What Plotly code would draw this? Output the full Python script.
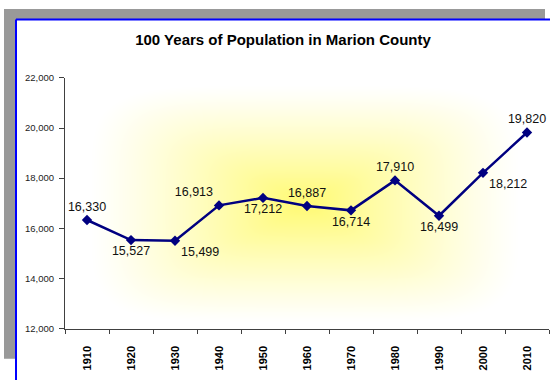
import base64
import struct
import zlib

import numpy as np
import plotly.graph_objects as go

# Census population of Marion County, 1910-2010
years = [1910, 1920, 1930, 1940, 1950, 1960, 1970, 1980, 1990, 2000, 2010]
population = [16330, 15527, 15499, 16913, 17212, 16887, 16714, 17910, 16499, 18212, 19820]
label_positions = ["top center", "bottom center", "bottom right", "top left", "bottom center",
                   "top center", "bottom center", "top center", "bottom center", "bottom right",
                   "top center"]
y_ticks = [12000, 14000, 16000, 18000, 20000, 22000]

W, H = 550, 385
FONT = "Arial, Liberation Sans, sans-serif"

# plot area in pixels
px0, px1 = 65, 549
py0, py1 = 74, 332


def png_data_uri(rgb):
    """Encode an (h, w, 3) uint8 array as a PNG data URI."""
    h, w, _ = rgb.shape
    raw = b"".join(b"\x00" + rgb[r].tobytes() for r in range(h))

    def chunk(tag, data):
        c = struct.pack(">I", len(data)) + tag + data
        return c + struct.pack(">I", zlib.crc32(tag + data) & 0xFFFFFFFF)

    png = (b"\x89PNG\r\n\x1a\n"
           + chunk(b"IHDR", struct.pack(">IIBBBBB", w, h, 8, 2, 0, 0, 0))
           + chunk(b"IDAT", zlib.compress(raw, 9))
           + chunk(b"IEND", b""))
    return "data:image/png;base64," + base64.b64encode(png).decode()


# rectangular "from centre" yellow glow inside the plot area
gw, gh = px1 - px0, py1 - py0
xs = np.arange(gw) + px0 + 0.5
ys = np.arange(gh) + py0 + 0.5
X, Y = np.meshgrid(xs, ys)
u = (X - 305) / 215
v = (Y - 204) / 122
p = 5
d = (np.abs(u) ** p + np.abs(v) ** p) ** (1 / p)
t = np.clip(1 - d, 0, 1) ** 1.15
center = np.array([255, 250, 115], dtype=float)
white = np.array([255, 255, 255], dtype=float)
img = white[None, None, :] * (1 - t[..., None]) + center[None, None, :] * t[..., None]
glow = png_data_uri(img.round().astype(np.uint8))

fig = go.Figure()
fig.add_trace(go.Scatter(
    x=years, y=population,
    mode="lines+markers+text",
    line=dict(color="#000080", width=2.5),
    marker=dict(symbol="diamond", size=8, color="#000080"),
    text=[f"{v:,}" for v in population],
    textposition=label_positions,
    textfont=dict(family=FONT, size=12.5, color="#111111"),
    cliponaxis=False,
    hoverinfo="skip",
))

fx = lambda q: q / W
fy = lambda q: 1 - q / H

fig.update_layout(
    width=W, height=H,
    margin=dict(l=0, r=0, t=0, b=0),
    paper_bgcolor="white",
    plot_bgcolor="rgba(0,0,0,0)",
    showlegend=False,
    title=dict(text="<b>100 Years of Population in Marion County</b>",
               x=fx(283), xanchor="center", y=fy(40), yanchor="middle",
               font=dict(family=FONT, size=15, color="#000000")),
    xaxis=dict(
        domain=[fx(px0), fx(px1)],
        range=[1905, 2015],
        tickvals=years,
        ticktext=[str(y) for y in years],
        tickangle=-90,
        ticks="",
        ticklabelstandoff=12,
        tickfont=dict(family=FONT, size=11, color="#000000", weight="bold"),
        showline=True, linecolor="#404040", linewidth=1,
        showgrid=False, zeroline=False,
        minor=dict(tick0=1905, dtick=10, ticks="outside", ticklen=4,
                   tickcolor="#404040", showgrid=False),
    ),
    yaxis=dict(
        domain=[1 - py1 / H, 1 - py0 / H],
        range=[12000, 22000],
        tickvals=y_ticks,
        tickformat=",d",
        ticks="outside", ticklen=5, tickcolor="#404040",
        ticklabelstandoff=3,
        tickfont=dict(family=FONT, size=9.5, color="#222222"),
        showline=True, linecolor="#404040", linewidth=1,
        showgrid=False, zeroline=False,
    ),
    images=[dict(source=glow, xref="paper", yref="paper",
                 x=fx(px0), y=fy(py0), sizex=fx(px1) - fx(px0), sizey=fy(py0) - fy(py1),
                 xanchor="left", yanchor="top", sizing="stretch", layer="below")],
    shapes=[
        # grey shadow strips along the top and left of the frame
        dict(type="rect", xref="paper", yref="paper", x0=fx(4), x1=fx(545), y0=fy(14), y1=fy(3),
             fillcolor="#999999", line=dict(width=0), layer="below"),
        dict(type="rect", xref="paper", yref="paper", x0=fx(4), x1=fx(16), y0=fy(363), y1=fy(3),
             fillcolor="#999999", line=dict(width=0), layer="below"),
        # blue frame edges
        dict(type="line", xref="paper", yref="paper", x0=fx(16), x1=fx(16), y0=0, y1=fy(14),
             line=dict(color="#0000FF", width=2)),
        dict(type="line", xref="paper", yref="paper", x0=fx(16), x1=1, y0=fy(14), y1=fy(14),
             line=dict(color="#0000FF", width=2)),
    ],
)

fig.write_html("out.html")
